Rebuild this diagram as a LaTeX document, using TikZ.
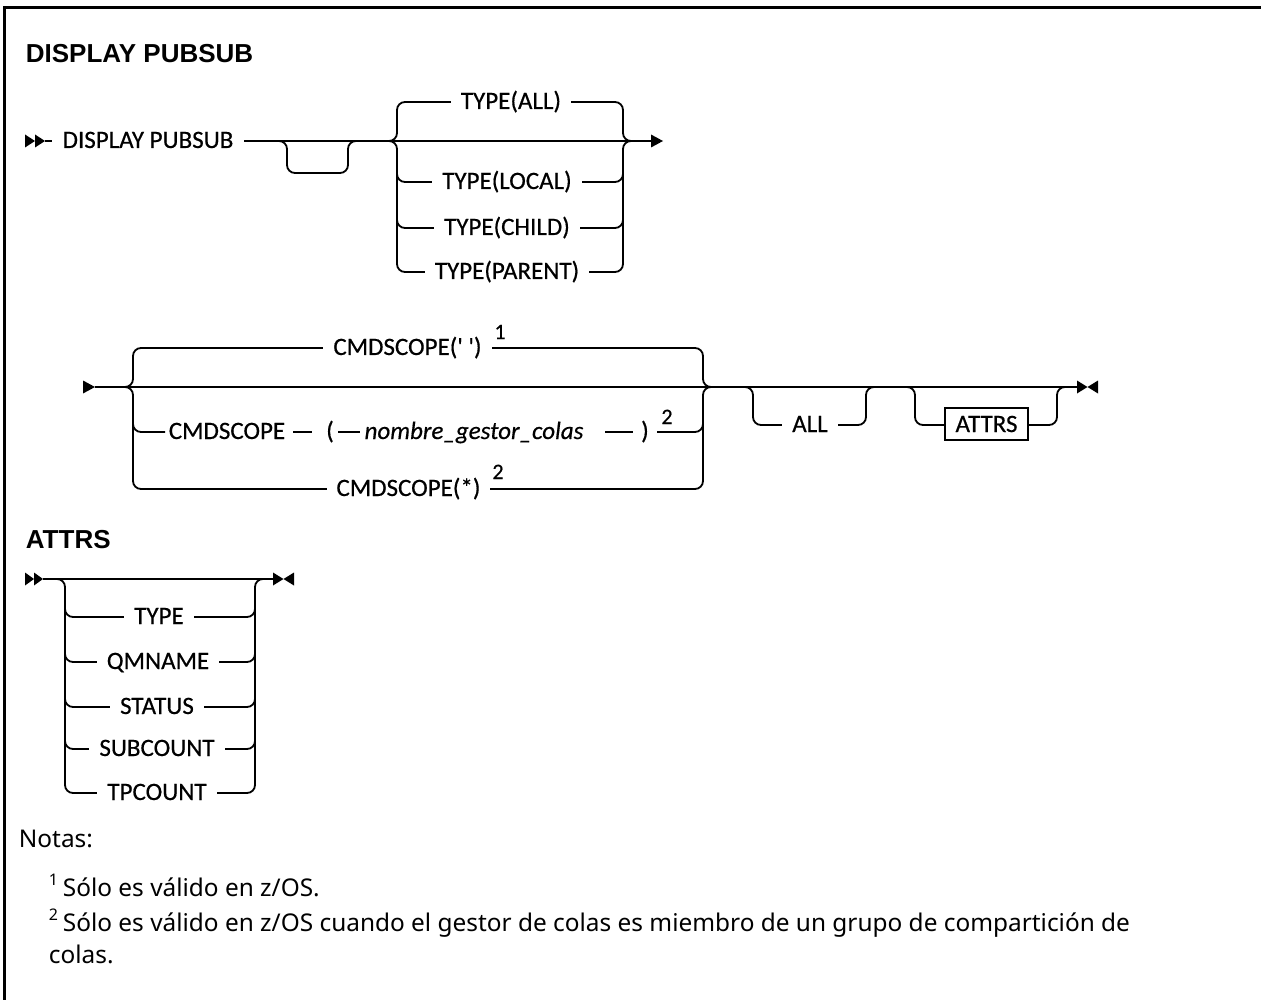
\documentclass[tikz,border=0pt]{standalone}
\usepackage{fontspec}
\setmainfont{Noto Sans}
\newfontfamily\labfont[Ligatures=TeXOff,FakeBold=0.5]{Carlito}
\newfontfamily\ttlfont{Liberation Sans}
\begin{document}
\begin{tikzpicture}[x=1pt,y=-1pt,line width=1.8pt,
  rc/.style={rounded corners=8pt},
  lab/.style={font=\labfont\fontsize{25}{30}\selectfont, inner sep=0pt, anchor=base},
  labw/.style={lab, fill=white, inner xsep=10pt, inner ysep=3pt},
  sup/.style={font=\labfont\fontsize{22}{24}\selectfont, inner sep=0pt, anchor=base},
  ttl/.style={font=\ttlfont\bfseries\fontsize{26}{30}\selectfont, inner sep=0pt, anchor=base west},
  note/.style={font=\fontsize{24.4}{30}\selectfont, inner sep=0pt, anchor=base west},
  nsup/.style={font=\fontsize{16}{18}\selectfont, inner sep=0pt, anchor=base west},
  pics/arrowr/.style={code={\fill (0,-6.5) -- (12,0) -- (0,6.5) -- cycle;}},
  pics/startdbl/.style={code={\fill (0,-6.5) -- (10,0) -- (0,6.5) -- cycle; \fill (10,-6.5) -- (20,0) -- (10,6.5) -- cycle;}},
  pics/startdblb/.style={code={\fill (0,-6.5) -- (9,0) -- (0,6.5) -- cycle; \fill (9,-6.5) -- (18,0) -- (9,6.5) -- cycle;}},
  pics/endmark/.style={code={\fill (0,-6.5) -- (10.5,0) -- (0,6.5) -- cycle; \fill (21,-6.5) -- (10.5,0) -- (21,6.5) -- cycle;}}
]
\useasboundingbox (0,0) rectangle (1261,1000);
% frame
\draw[line width=3pt] (4,1001) -- (4,8) -- (1262,8);

% ---------- DISPLAY PUBSUB ----------
\node[ttl] (t1) at (25,63) {DISPLAY PUBSUB};

\pic at (25,141) {startdbl};
\draw (45,141) -- (651,141);
\pic at (651,141) {arrowr};
\node[labw, inner xsep=11pt] (dp) at (148,148) {DISPLAY PUBSUB};
% empty optional
\draw[rc] (279,141) -- (287,141) -- (287,173) -- (348,173) -- (348,141) -- (356,141);
% TYPE choice
\draw[rc] (389,141) -- (397,141) -- (397,102) -- (623,102) -- (623,141) -- (631,141);
\draw[rc] (389,141) -- (397,141) -- (397,272) -- (623,272) -- (623,141) -- (631,141);
\draw[rc] (397,160) -- (397,182) -- (623,182) -- (623,160);
\draw[rc] (397,205) -- (397,228) -- (623,228) -- (623,205);
\node[labw] (tall) at (511,109) {TYPE(ALL)};
\node[labw] (tloc) at (507,189) {TYPE(LOCAL)};
\node[labw] (tchi) at (507,235) {TYPE(CHILD)};
\node[labw] (tpar) at (507,279) {TYPE(PARENT)};

% ---------- CMDSCOPE line ----------
\pic at (83,387) {arrowr};
\draw (95,387) -- (1077,387);
\draw[rc] (125,387) -- (133,387) -- (133,348) -- (703,348) -- (703,387) -- (711,387);
\draw[rc] (125,387) -- (133,387) -- (133,489) -- (703,489) -- (703,387) -- (711,387);
\draw[rc] (133,410) -- (133,432) -- (165,432);
\draw (293,432) -- (312,432);
\draw (338,432) -- (360,432);
\draw (605,432) -- (633,432);
\draw[rc] (657,432) -- (703,432) -- (703,410);
\node[labw] (c1) at (407.5,355) {CMDSCOPE(' ')};
\node[sup] (s1) at (500,339) {1};
\node[lab] (c2) at (227,439) {CMDSCOPE};
\node[lab] (lp) at (330,439) {(};
\node[lab] (qm) at (474,439) {\itshape nombre\_gestor\_colas};
\node[lab] (rp) at (645,439) {)};
\node[sup] (s2) at (667,424) {2};
\node[labw] (c3) at (408.5,496) {CMDSCOPE(*)};
\node[sup] (s3) at (498,479) {2};
% ALL optional
\draw[rc] (745,387) -- (753,387) -- (753,425) -- (866,425) -- (866,387) -- (874,387);
\node[labw] (all) at (810,432) {ALL};
% ATTRS optional
\draw[rc] (907,387) -- (915,387) -- (915,425) -- (1057,425) -- (1057,387) -- (1065,387);
\node[draw, line width=1.5pt, fill=white, minimum width=83pt, minimum height=32pt, inner sep=0pt,
      font=\labfont\fontsize{25}{30}\selectfont] (attrsbox) at (986.5,424) {ATTRS};
\pic at (1077,387) {endmark};

% ---------- ATTRS ----------
\node[ttl] (t2) at (25,548) {ATTRS};
\pic at (25,579) {startdblb};
\draw (43,579) -- (273,579);
\pic at (273,579) {endmark};
\draw[rc] (57,579) -- (65,579) -- (65,793) -- (255,793) -- (255,579) -- (263,579);
\foreach \yy in {617,662,707,749}{
  \draw[rc] (65,\yy-20) -- (65,\yy) -- (255,\yy) -- (255,\yy-20);
}
\node[labw] (a1) at (159,624) {TYPE};
\node[labw] (a2) at (158,669) {QMNAME};
\node[labw] (a3) at (157,714) {STATUS};
\node[labw] (a4) at (157,756) {SUBCOUNT};
\node[labw] (a5) at (157,800) {TPCOUNT};

% ---------- Notes ----------
\node[note] (n0) at (18,847) {Notas:};
\node[nsup] (n1s) at (48,885) {1};
\node[note] (n1) at (62,896) {Sólo es válido en z/OS.};
\node[nsup] (n2s) at (48,920) {2};
\node[note] (n2) at (62,931) {Sólo es válido en z/OS cuando el gestor de colas es miembro de un grupo de compartición de};
\node[note] (n3) at (48,963) {colas.};
\end{tikzpicture}
\end{document}
